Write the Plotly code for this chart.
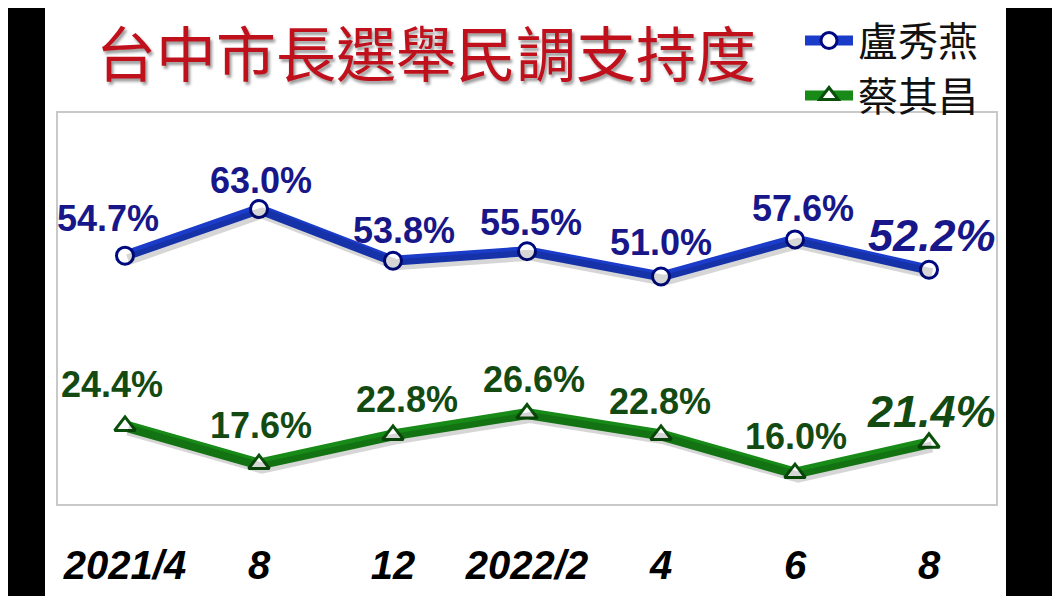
import plotly.graph_objects as go

# ---- data ----
periods = ["2021/4", "8", "12", "2022/2", "4", "6", "8"]
lu_values = [54.7, 63.0, 53.8, 55.5, 51.0, 57.6, 52.2]
tsai_values = [24.4, 17.6, 22.8, 26.6, 22.8, 16.0, 21.4]
series_names = ["盧秀燕", "蔡其昌"]
title_text = "台中市長選舉民調支持度"

# ---- styles ----
BLUE = "#1b3cc9"
NAVY = "#000a80"
BLUE_TXT = "#17178a"
GREEN = "#178a17"
DKGREEN = "#0a500a"
GREEN_TXT = "#124a12"
NUMFONT = "Liberation Sans Narrow, Liberation Sans, Arial"
CJK = "Noto Sans CJK TC"

# label offsets (pixels) relative to each point: (dx, dy-up)
lu_off = [(-17, 37), (2, 29), (11, 30), (4, 29), (0, 34), (8, 31), (3, 34)]
ts_off = [(-13, 41), (2, 39), (14, 35), (7, 34), (-1, 33), (1, 37), (2, 31)]

xi = list(range(len(periods)))

# page offset compensation (body margin)
OFF = 8
W, H = 1060 - OFF, 596 - OFF
# plot box in reference pixels
BX0, BX1, BY0, BY1 = 58, 996, 113, 504
L, R, T, B = BX0 - OFF, 1060 - BX1, BY0 - OFF, 596 - BY1
pw, ph = BX1 - BX0, BY1 - BY0


def px(x):
    return (x - BX0) / pw


def py(y):
    return 1 - (y - BY0) / ph


fig = go.Figure()

xrange_ = [-0.5, 6.5]
yrange_ = [10.5, 80.1]
sx = (xrange_[1] - xrange_[0]) / pw * 3
sy = (yrange_[1] - yrange_[0]) / ph * 4

# shadows (same data on slightly shifted overlay axes)
for vals in (lu_values, tsai_values):
    fig.add_trace(go.Scatter(x=xi, y=vals, mode="lines", xaxis="x2", yaxis="y2",
                             line=dict(color="rgba(0,0,0,0.16)", width=11),
                             hoverinfo="skip", showlegend=False))

fig.add_trace(go.Scatter(
    x=xi, y=lu_values, mode="lines+markers", name=series_names[0], legendgroup="a",
    line=dict(color=BLUE, width=10),
    marker=dict(symbol="circle", size=17, color="white", line=dict(color=NAVY, width=3)),
))
fig.add_trace(go.Scatter(
    x=xi, y=tsai_values, mode="lines+markers", name=series_names[1], legendgroup="b",
    line=dict(color=GREEN, width=11),
    marker=dict(symbol="triangle-up", size=18, color="white", line=dict(color=DKGREEN, width=3)),
))

annotations = []
n = len(periods)
for vals, offs, col in ((lu_values, lu_off, BLUE_TXT), (tsai_values, ts_off, GREEN_TXT)):
    for i, v in enumerate(vals):
        last = i == n - 1
        annotations.append(dict(
            x=xi[i], y=v, xref="x", yref="y", text=f"{v:.1f}%", showarrow=False,
            xanchor="center", yanchor="middle", xshift=offs[i][0], yshift=offs[i][1],
            font=dict(family=NUMFONT, size=45 if last else 36, color=col,
                      weight="bold", style="italic" if last else "normal"),
        ))

annotations.append(dict(
    x=px(426), y=py(50), xref="paper", yref="paper", text=title_text, showarrow=False,
    xanchor="center", yanchor="middle",
    font=dict(family=CJK, size=60, color="#c0101c",
              shadow="2px 3px 3px rgba(0,0,0,0.4)"),
))

fig.update_layout(
    width=W, height=H,
    margin=dict(l=L, r=R, t=T, b=B, pad=0, autoexpand=False),
    paper_bgcolor="black",
    plot_bgcolor="white",
    showlegend=True,
    annotations=annotations,
    legend=dict(x=px(800), y=py(8), xanchor="left", yanchor="top",
                font=dict(family=CJK, size=40, color="#111"),
                bgcolor="rgba(0,0,0,0)", tracegroupgap=0, itemwidth=48),
    xaxis=dict(range=xrange_, tickmode="array", tickvals=xi, ticktext=periods,
               showgrid=False, zeroline=False, showline=True, mirror=True,
               linecolor="#c9c9c9", linewidth=2, ticks="", automargin=False,
               ticklabelstandoff=25,
               tickfont=dict(family=NUMFONT, size=40, color="black",
                             weight="bold", style="italic")),
    yaxis=dict(range=yrange_, showgrid=False, zeroline=False, showticklabels=False,
               showline=True, mirror=True, linecolor="#c9c9c9", linewidth=2, ticks="",
               automargin=False),
    xaxis2=dict(overlaying="x", range=[xrange_[0] - sx, xrange_[1] - sx], visible=False),
    yaxis2=dict(overlaying="y", range=[yrange_[0] + sy, yrange_[1] + sy], visible=False),
    shapes=[dict(type="rect", xref="paper", yref="paper", layer="below",
                 x0=px(45), x1=px(1006), y0=py(600), y1=py(0),
                 fillcolor="white", line=dict(width=0))],
)

fig.write_html("out.html")
